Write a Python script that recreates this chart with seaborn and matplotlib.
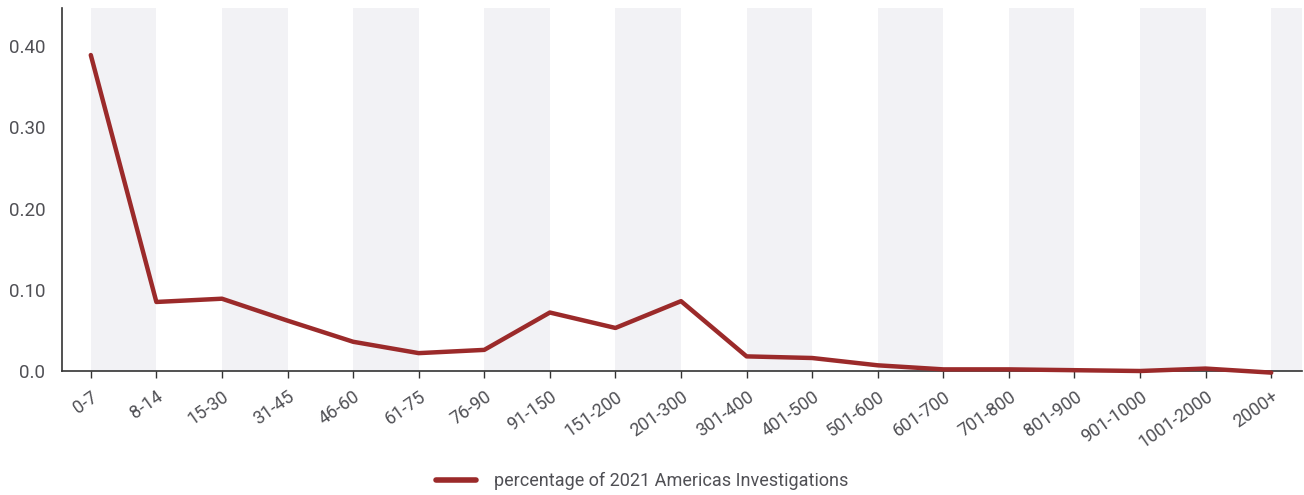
import matplotlib
matplotlib.use("Agg")
import matplotlib.pyplot as plt
import seaborn as sns
import pandas as pd

categories = ["0-7", "8-14", "15-30", "31-45", "46-60", "61-75", "76-90", "91-150",
              "151-200", "201-300", "301-400", "401-500", "501-600", "601-700",
              "701-800", "801-900", "901-1000", "1001-2000", "2000+"]
values = [0.389, 0.085, 0.089, 0.062, 0.036, 0.022, 0.026, 0.072, 0.053, 0.086,
          0.018, 0.016, 0.007, 0.002, 0.002, 0.001, 0.0, 0.003, -0.002]
series_name = "percentage of 2021 Americas Investigations"
yticks = [0.0, 0.10, 0.20, 0.30, 0.40]
ytick_labels = ["0.0", "0.10", "0.20", "0.30", "0.40"]

sns.set_style("white")
plt.rcParams['font.family'] = ['Roboto', 'DejaVu Sans']

df = pd.DataFrame({"x": range(len(categories)), "y": values, "s": series_name})

fig = plt.figure(figsize=(13.04, 4.95), dpi=100)
ax = fig.add_axes([0.0475, 0.2505, 0.951, 0.7335])

for i in range(0, len(categories), 2):
    ax.axvspan(i, i + 1, color="#f2f2f5", zorder=0, lw=0)

sns.lineplot(data=df, x="x", y="y", hue="s", palette=["#9b2a2a"], linewidth=3.2,
             ax=ax, zorder=3, legend=True)
for l in ax.lines:
    l.set_clip_on(False)
    l.set_solid_capstyle("round")
    l.set_solid_joinstyle("round")

ax.set_xlim(-0.44, 18.47)
ax.set_ylim(0, 0.447)
ax.set_xticks(range(len(categories)))
ax.set_xticklabels(categories, rotation=35, ha="right", rotation_mode="anchor",
                   color="#505055", fontsize=13)
ax.set_yticks(yticks)
ax.set_yticklabels(ytick_labels, color="#505055", fontsize=13.5)
ax.set_xlabel("")
ax.set_ylabel("")
ax.tick_params(axis="x", length=5, width=1, color="#333333", pad=7, bottom=True)
ax.tick_params(axis="y", length=0, pad=12)
for side in ["top", "right"]:
    ax.spines[side].set_visible(False)
for side in ["left", "bottom"]:
    ax.spines[side].set_color("#333333")
    ax.spines[side].set_linewidth(1.2)

leg = ax.legend(loc="center", bbox_to_anchor=(0.468, -0.303), frameon=False,
                fontsize=13, handlelength=2.2, handletextpad=1.0, labelcolor="#505055")
for h in leg.get_lines():
    h.set_linewidth(4)
    h.set_solid_capstyle("round")

fig.savefig("out.png", dpi=100)
